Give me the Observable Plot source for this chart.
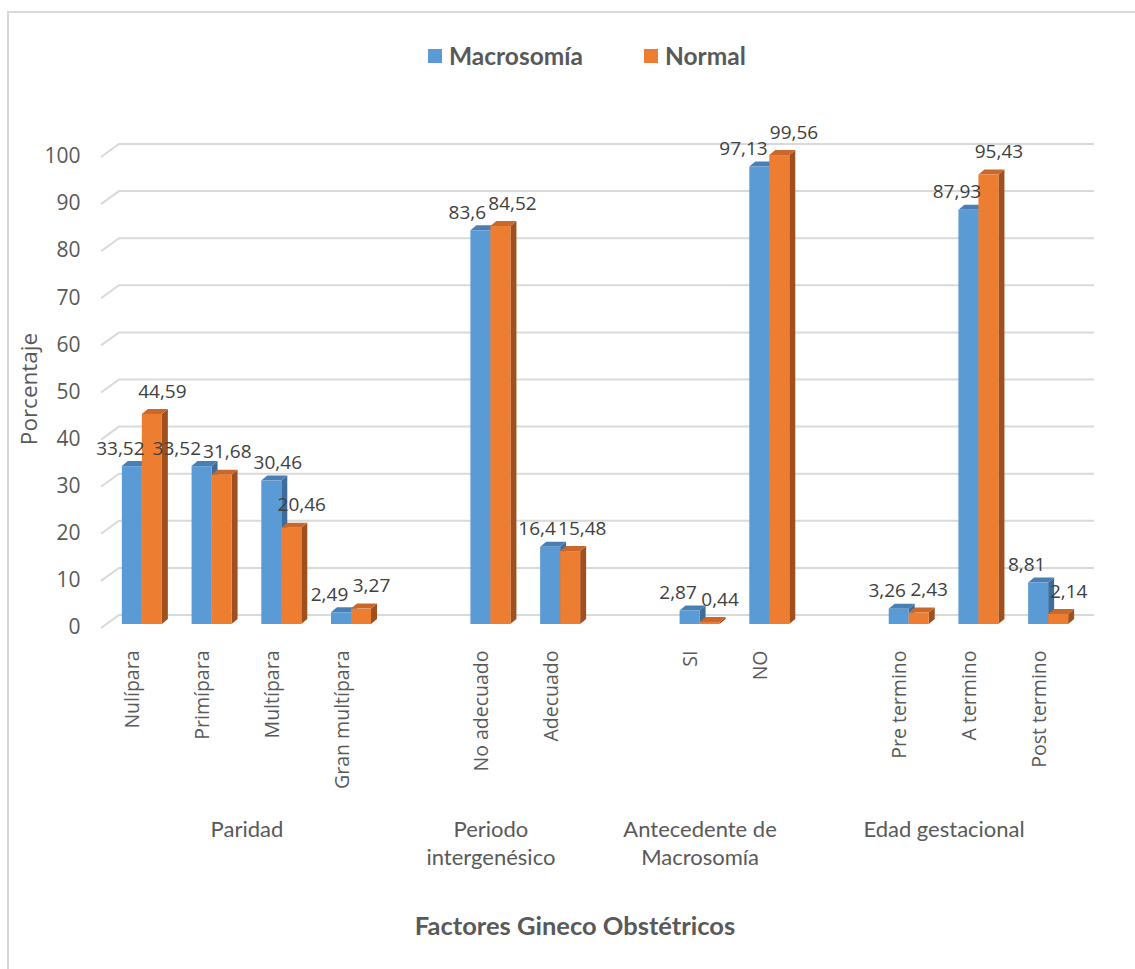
<!DOCTYPE html>
<html>
<head>
<meta charset="utf-8">
<script src="https://cdn.jsdelivr.net/npm/d3@7"></script>
<script src="https://cdn.jsdelivr.net/npm/@observablehq/plot@0.6"></script>
<style>
  html, body { margin: 0; padding: 0; background: #fff; }
  #wrap { position: relative; width: 1135px; height: 969px; overflow: hidden; }
  #frame { position: absolute; left: 7px; top: 11px; width: 1140px; height: 980px;
           border-top: 2px solid #d9d9d9; border-left: 2px solid #d9d9d9; box-sizing: border-box; }
  #chart { position: absolute; left: 0; top: 0; }
  .legend { position: absolute; top: 41px; font: bold 24.5px Lato, sans-serif; color: #595959;
            display: flex; align-items: center; white-space: nowrap; }
  .legend i { display: inline-block; width: 14px; height: 14px; margin-right: 7px; }
  #xtitle { position: absolute; left: 0; width: 1150px; top: 910px; text-align: center;
            font: bold 25.5px Lato, sans-serif; color: #595959; }
</style>
</head>
<body>
<div id="wrap">
  <div id="frame"></div>
  <div id="chart"></div>
  <div class="legend" style="left:428px"><i style="background:#5B9BD5"></i>Macrosomía</div>
  <div class="legend" style="left:644px"><i style="background:#ED7D31"></i>Normal</div>
  <div id="xtitle">Factores Gineco Obstétricos</div>
</div>
<script>
// Categories, grouped by obstetric factor
const categories = ["Nulípara", "Primípara", "Multípara", "Gran multípara",
                    "No adecuado", "Adecuado",
                    "SI", "NO",
                    "Pre termino", "A termino", "Post termino"];
const groupNames = ["Paridad", "Periodo\nintergenésico", "Antecedente de\nMacrosomía", "Edad gestacional"];
const groupSizes = [4, 2, 2, 3];

// Percentages per series
const macrosomia = [33.52, 33.52, 30.46, 2.49, 83.6, 16.4, 2.87, 97.13, 3.26, 87.93, 8.81];
const normal     = [44.59, 31.68, 20.46, 3.27, 84.52, 15.48, 0.44, 99.56, 2.43, 95.43, 2.14];

const yTicks = [0, 10, 20, 30, 40, 50, 60, 70, 80, 90, 100];

const BLUE = "#5B9BD5", BLUE_TOP = "#4A7FB5", BLUE_SIDE = "#3E6D9B";
const ORANGE = "#ED7D31", ORANGE_TOP = "#C9682A", ORANGE_SIDE = "#A0501E";

// Plot geometry
const W = 1135, H = 969, ML = 107, MR = 52, MT = 153, MB = 345;

// Slot layout: one empty slot separates consecutive groups
const slotOf = [];
const groupRows = [];
let s = 0, k = 0;
groupSizes.forEach((n, g) => {
  if (g > 0) s++;
  const first = s;
  for (let j = 0; j < n; j++) slotOf[k++] = s++;
  const last = s - 1;
  const start = g > 0 ? first - 1 : first;
  groupRows.push({name: groupNames[g], center: (start + last) / 2});
});
const nSlots = s;

const rows = categories.map((c, i) => ({cat: c, slot: slotOf[i], macro: macrosomia[i], normal: normal[i]}));

const barW = 0.287;   // bar width in slot units
const depthX = 6, depthY = 5;
const fmt = v => String(v).replace(".", ",");

// Value labels: blue ones sit up-left of their column, orange ones up-right;
// labels that would collide are pushed apart sideways.
const FS = 19, pxSlot = (W - ML - MR) / nSlots, pxUnit = (H - MT - MB) / 100;
const dxB = -12, dyB = -18, dxO = 10, dyO = -23;
const textW = t => t.length * 0.56 * FS - (t.includes(",") ? 0.3 * FS : 0);
const labels = [];
rows.forEach(d => {
  labels.push({series: "macro", value: d.macro, text: fmt(d.macro), dy: dyB,
               px: (d.slot - barW / 2) * pxSlot + dxB});
  labels.push({series: "normal", value: d.normal, text: fmt(d.normal), dy: dyO,
               px: (d.slot + barW / 2) * pxSlot + dxO});
});
labels.forEach(l => { l.py = -l.value * pxUnit + l.dy; l.w = textW(l.text); });
for (let iter = 0; iter < 60; iter++) {
  for (let i = 0; i < labels.length; i++) {
    for (let j = i + 1; j < labels.length; j++) {
      const a = labels[i], b = labels[j];
      const need = (a.w + b.w) / 2 + 3, gap = Math.abs(a.px - b.px);
      if (Math.abs(a.py - b.py) < FS && gap < need) {
        const push = (need - gap) / 2, sign = a.px <= b.px ? -1 : 1;
        a.px += sign * push; b.px -= sign * push;
      }
    }
  }
}
labels.forEach(l => { l.lx = l.px / pxSlot; });
const labelsB = labels.filter(l => l.series === "macro");
const labelsO = labels.filter(l => l.series === "normal");

// Slanted 3D gridlines on the back wall
const wallGrid = (index, {y}, values, dims) => {
  const g = d3.create("svg:g");
  const xl = dims.marginLeft, xr = dims.width - dims.marginRight;
  for (const t of yTicks) {
    const yy = y(t);
    g.append("path")
      .attr("d", `M${xl - 6},${yy + 4}L${xl + 12},${yy - 9}H${xr + 11}`)
      .attr("fill", "none").attr("stroke", "#d9d9d9").attr("stroke-width", 2);
  }
  return g.node();
};

// Top and side faces that give each column its depth
const depthFaces = (key, offset, topColor, sideColor) => (index, {x, y}) => {
  const g = d3.create("svg:g");
  for (const d of rows) {
    const x0 = x(d.slot + offset), x1 = x(d.slot + offset + barW);
    const yT = y(d[key]), yB = y(0);
    g.append("path")
      .attr("d", `M${x1},${yT}L${x1 + depthX},${yT - depthY}V${yB - depthY}L${x1},${yB}Z`)
      .attr("fill", sideColor);
    g.append("path")
      .attr("d", `M${x0},${yT}L${x1},${yT}L${x1 + depthX},${yT - depthY}L${x0 + depthX},${yT - depthY}Z`)
      .attr("fill", topColor);
  }
  return g.node();
};

const chart = Plot.plot({
  width: W,
  height: H,
  marginLeft: ML,
  marginRight: MR,
  marginTop: MT,
  marginBottom: MB,
  x: {type: "linear", domain: [-0.5, nSlots - 0.5], axis: null},
  y: {domain: [0, 100], axis: null},
  style: {background: "transparent", fontFamily: "'Open Sans', sans-serif", overflow: "visible"},
  marks: [
    wallGrid,
    Plot.axisY(yTicks, {tickSize: 0, tickPadding: 27, fontSize: 21, fill: "#595959", label: null, dy: 3}),
    Plot.text(["Porcentaje"], {frameAnchor: "left", textAnchor: "middle", dx: -78, rotate: -90,
                               fontSize: 22.5, fill: "#595959"}),

    depthFaces("macro", -barW, BLUE_TOP, BLUE_SIDE),
    Plot.rectY(rows, {x1: d => d.slot - barW, x2: d => d.slot, y: "macro", fill: BLUE}),
    depthFaces("normal", 0, ORANGE_TOP, ORANGE_SIDE),
    Plot.rectY(rows, {x1: d => d.slot, x2: d => d.slot + barW, y: "normal", fill: ORANGE}),

    // value labels
    Plot.text(labelsB, {x: "lx", y: "value", text: "text", dy: dyB, fontSize: FS, fill: "#404040"}),
    Plot.text(labelsO, {x: "lx", y: "value", text: "text", dy: dyO, fontSize: FS, fill: "#404040"}),

    // category and group labels
    Plot.text(rows, {x: "slot", text: "cat", frameAnchor: "bottom", rotate: -90, textAnchor: "end",
                     dx: -3, dy: 26, fontSize: 19.5, fill: "#595959"}),
    Plot.text(groupRows, {x: "center", text: "name", frameAnchor: "bottom", lineAnchor: "top",
                          dy: 192, fontSize: 22, lineHeight: 1.28, fill: "#595959",
                          fontFamily: "Lato, sans-serif"})
  ]
});
document.getElementById("chart").append(chart);
</script>
</body>
</html>
